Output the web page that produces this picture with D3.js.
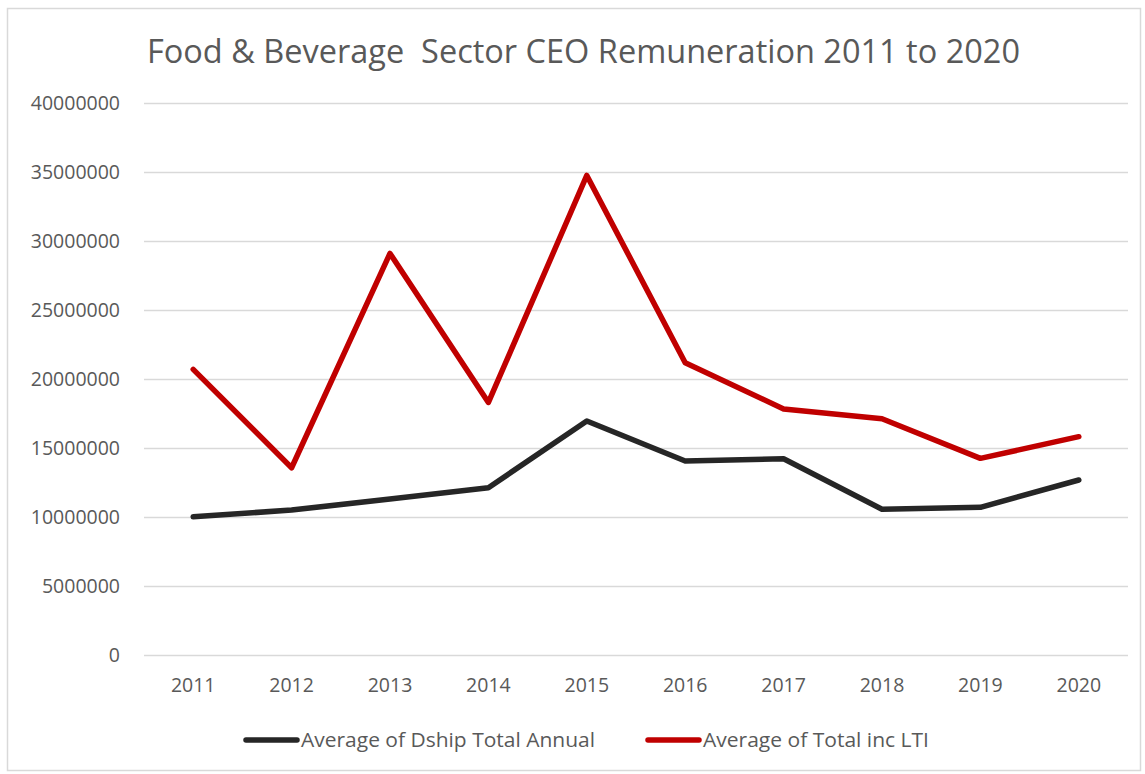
<!DOCTYPE html>
<html lang="en">
  <head>
    <meta charset="UTF-8" />
    <title>Food &amp; Beverage Sector CEO Remuneration</title>
    <script src="https://cdn.jsdelivr.net/npm/d3@7"></script>
    <style>
      body { margin: 0; background: #fff; }
      text { font-family: "Open Sans", "Liberation Sans", sans-serif; fill: #595959; }
    </style>
  </head>
  <body>
    <script>
      const width = 1145;
      const height = 774;

      const years = ["2011", "2012", "2013", "2014", "2015", "2016", "2017", "2018", "2019", "2020"];
      const dshipTotal = [10020000, 10500000, 11300000, 12120000, 16960000, 14060000, 14220000, 10560000, 10700000, 12680000];
      const totalIncLti = [20700000, 13570000, 29100000, 18300000, 34750000, 21180000, 17830000, 17120000, 14250000, 15820000];
      const yTicks = [0, 5000000, 10000000, 15000000, 20000000, 25000000, 30000000, 35000000, 40000000];

      const series = [
        { name: "Average of Dship Total Annual", values: dshipTotal, color: "#262626" },
        { name: "Average of Total inc LTI", values: totalIncLti, color: "#c00000" },
      ];

      const margin = { top: 103, right: 17, bottom: 119, left: 144 };

      const svg = d3.select("body").append("svg")
        .attr("width", width)
        .attr("height", height);

      // chart border
      svg.append("rect")
        .attr("x", 7.5).attr("y", 8.5)
        .attr("width", 1133).attr("height", 762)
        .attr("fill", "none")
        .attr("stroke", "#d9d9d9")
        .attr("stroke-width", 1.5);

      const x = d3.scaleBand()
        .domain(years)
        .range([margin.left, width - margin.right]);

      const y = d3.scaleLinear()
        .domain([0, 40000000])
        .range([height - margin.bottom, margin.top]);

      // gridlines + y labels
      const yAxis = svg.append("g")
        .attr("transform", `translate(${margin.left},0)`)
        .call(d3.axisLeft(y)
          .tickValues(yTicks)
          .tickSize(-(width - margin.left - margin.right))
          .tickPadding(24)
          .tickFormat(d3.format("d")));
      yAxis.select(".domain").remove();
      yAxis.selectAll(".tick line")
        .attr("stroke", "#d9d9d9")
        .attr("stroke-width", 1.5);
      yAxis.selectAll(".tick text")
        .style("font-size", "19.5px")
        .attr("fill", "#595959");

      // x labels
      const xAxis = svg.append("g")
        .attr("transform", `translate(0,${height - margin.bottom})`)
        .call(d3.axisBottom(x).tickSize(0).tickPadding(23));
      xAxis.select(".domain").remove();
      xAxis.selectAll(".tick text")
        .style("font-size", "19.5px")
        .attr("fill", "#595959");

      // lines
      const line = d3.line()
        .x((d, i) => x(years[i]) + x.bandwidth() / 2)
        .y((d) => y(d));

      svg.append("g")
        .selectAll("path")
        .data(series)
        .join("path")
        .attr("d", (d) => line(d.values))
        .attr("fill", "none")
        .attr("stroke", (d) => d.color)
        .attr("stroke-width", 5.5)
        .attr("stroke-linejoin", "round")
        .attr("stroke-linecap", "round");

      // title
      svg.append("text")
        .attr("x", 147)
        .attr("y", 63)
        .attr("textLength", 873)
        .attr("lengthAdjust", "spacingAndGlyphs")
        .style("font-size", "33px")
        .style("white-space", "pre")
        .text("Food & Beverage  Sector CEO Remuneration 2011 to 2020");

      // legend
      const legendPos = [
        { x0: 246, x1: 297, tx: 301, tw: 294 },
        { x0: 648, x1: 699, tx: 703, tw: 226 },
      ];
      const legend = svg.append("g")
        .selectAll("g")
        .data(series)
        .join("g");
      legend.append("line")
        .attr("x1", (d, i) => legendPos[i].x0)
        .attr("x2", (d, i) => legendPos[i].x1)
        .attr("y1", 740).attr("y2", 740)
        .attr("stroke", (d) => d.color)
        .attr("stroke-width", 5.5)
        .attr("stroke-linecap", "round");
      legend.append("text")
        .attr("x", (d, i) => legendPos[i].tx)
        .attr("y", 747)
        .attr("textLength", (d, i) => legendPos[i].tw)
        .attr("lengthAdjust", "spacingAndGlyphs")
        .style("font-size", "19.5px")
        .text((d) => d.name);
    </script>
  </body>
</html>
